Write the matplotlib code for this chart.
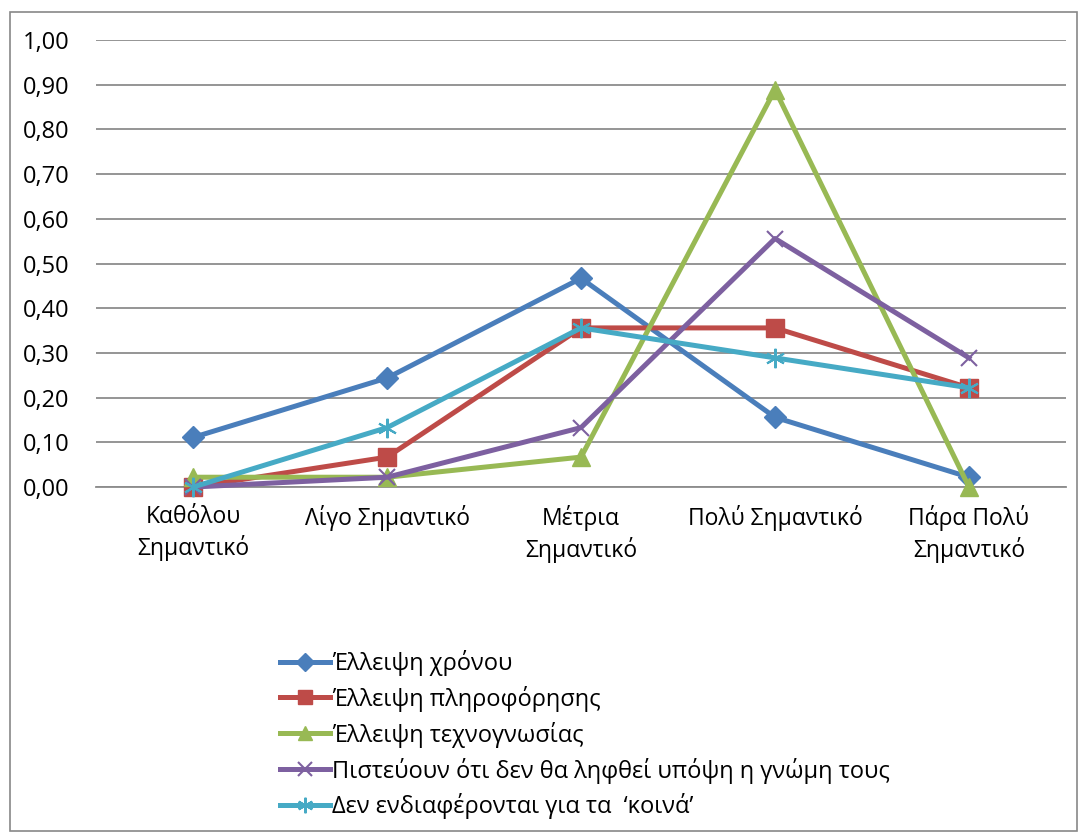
import matplotlib
matplotlib.use('Agg')
import matplotlib.pyplot as plt
from matplotlib.patches import Rectangle
from matplotlib.ticker import FuncFormatter

plt.rcParams['font.family'] = ['Open Sans', 'DejaVu Sans']

categories = ['Καθόλου\nΣημαντικό', 'Λίγο Σημαντικό', 'Μέτρια\nΣημαντικό',
              'Πολύ Σημαντικό', 'Πάρα Πολύ\nΣημαντικό']

time_lack = [0.111, 0.244, 0.467, 0.156, 0.022]
info_lack = [0.0, 0.067, 0.356, 0.356, 0.222]
knowhow_lack = [0.022, 0.022, 0.067, 0.889, 0.0]
not_heard = [0.0, 0.022, 0.133, 0.556, 0.289]
not_interested = [0.0, 0.133, 0.356, 0.289, 0.222]

series = [
    ('Έλλειψη χρόνου', time_lack, '#4A7EBB', 'D', 11),
    ('Έλλειψη πληροφόρησης', info_lack, '#BE4B48', 's', 13),
    ('Έλλειψη τεχνογνωσίας', knowhow_lack, '#98B954', '^', 13),
    ('Πιστεύουν ότι δεν θα ληφθεί υπόψη η γνώμη τους', not_heard, '#7D60A0', 'x', 12),
    ('Δεν ενδιαφέρονται για τα  ‘κοινά’', not_interested, '#46AAC5', (6, 2, 0), 14),
]

fig = plt.figure(figsize=(10.8, 8.34), dpi=100)
fig.patches.append(Rectangle((0.009, 0.003), 0.988, 0.983, transform=fig.transFigure,
                             fill=False, edgecolor='#888888', linewidth=1.2))

ax = fig.add_axes([0.089, 0.416, 0.898, 0.536])
x = range(len(categories))
for name, vals, col, mk, ms in series:
    thin = mk == 'x' or isinstance(mk, tuple)
    ax.plot(x, vals, color=col, linewidth=3.6, marker=mk, markersize=ms,
            markeredgewidth=1.5 if thin else 1,
            markeredgecolor=col, markerfacecolor=col, label=name, clip_on=False,
            zorder=3)

ax.set_xlim(-0.5, len(categories) - 0.5)
ax.set_ylim(0, 1.0)
ax.set_yticks([i / 10 for i in range(11)])
ax.yaxis.set_major_formatter(FuncFormatter(lambda v, p: ('%.2f' % v).replace('.', ',')))
ax.set_xticks(list(x))
ax.set_xticklabels(categories, fontsize=16.5, linespacing=1.3)
ax.tick_params(axis='y', labelsize=17, length=0, pad=19)
ax.tick_params(axis='x', length=0, pad=13)
ax.grid(axis='y', color='#8c8c8c', linewidth=1.3)
ax.set_axisbelow(True)
for s in ['top', 'right', 'left']:
    ax.spines[s].set_visible(False)
ax.spines['bottom'].set_color('#8c8c8c')
ax.spines['bottom'].set_linewidth(1.3)

fig.legend(loc='upper left', bbox_to_anchor=(0.248, 0.235), frameon=False,
           fontsize=17, handlelength=2.15, handletextpad=0.08, labelspacing=0.42,
           borderpad=0, markerscale=0.8)

fig.savefig('out.png', dpi=100)
